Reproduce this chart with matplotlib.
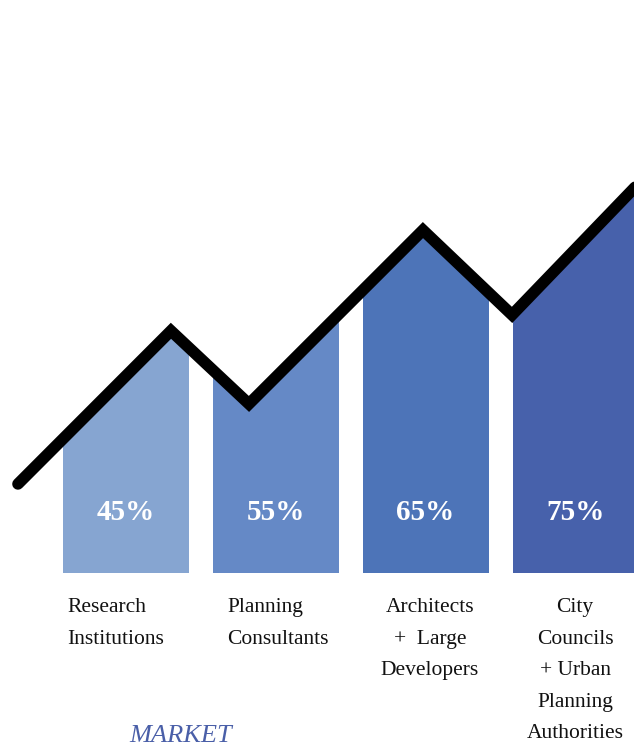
import matplotlib
matplotlib.use("Agg")
import matplotlib.pyplot as plt
from matplotlib.patches import Polygon
import numpy as np

# ---- data ----
categories = ["Research\nInstitutions", "Planning\nConsultants",
              "Architects\n+  Large\nDevelopers",
              "City\nCouncils\n+ Urban\nPlanning\nAuthorities"]
values = [45, 55, 65, 75]
labels = ["45%", "55%", "65%", "75%"]
bar_colors = ["#86A5D1", "#6589C6", "#4D74B8", "#4761AB"]

# zigzag trend line (x in bar-index units, y in percent)
trend_x = [-0.717, 0.303, 0.823, 1.983, 2.577, 3.70]
trend_y = [16.8, 45.7, 31.9, 64.7, 48.7, 81.7]

W, H = 634, 744
fig = plt.figure(figsize=(W / 100, H / 100), dpi=100)
ax = fig.add_axes([0, 0, 1, 1])
ax.set_xlim((0 - 125.5) / 150, (W - 125.5) / 150)
ax.set_ylim((573 - H) / 5.3, 573 / 5.3)
ax.axis("off")

x = np.arange(len(values))
bars = ax.bar(x, values, width=0.84, color=bar_colors, zorder=1)

# area under the trend line used as clip region for bars
verts = [(trend_x[0], 0)] + list(zip(trend_x, trend_y)) + [(trend_x[-1], 0)]
clip = Polygon(verts, closed=True, transform=ax.transData)
for b in bars:
    b.set_clip_path(clip)

ax.plot(trend_x, trend_y, color="black", lw=8.3, solid_capstyle="round",
        solid_joinstyle="miter", zorder=3)

for xi, lab in zip(x, labels):
    ax.text(xi, 11.5, lab, ha="center", va="center", color="white",
            fontsize=21, fontweight="bold", family="Liberation Serif", zorder=4)

# category labels
cat_pos = [(67, "left"), (227, "left"), (430, "center"), (575, "center")]
for (px, ha), cat in zip(cat_pos, categories):
    ax.text((px - 125.5) / 150, (573 - 598) / 5.3, cat, ha=ha, va="top",
            multialignment="center" if ha == "center" else "left",
            fontsize=15.5, family="Liberation Serif", color="#111111",
            linespacing=1.9)

ax.text((181 - 125.5) / 150, (573 - 742) / 5.3, "MARKET", ha="center",
        va="baseline", fontsize=19, style="italic", family="Liberation Serif",
        color="#4A5FA8")

fig.savefig("out.png", dpi=100)
